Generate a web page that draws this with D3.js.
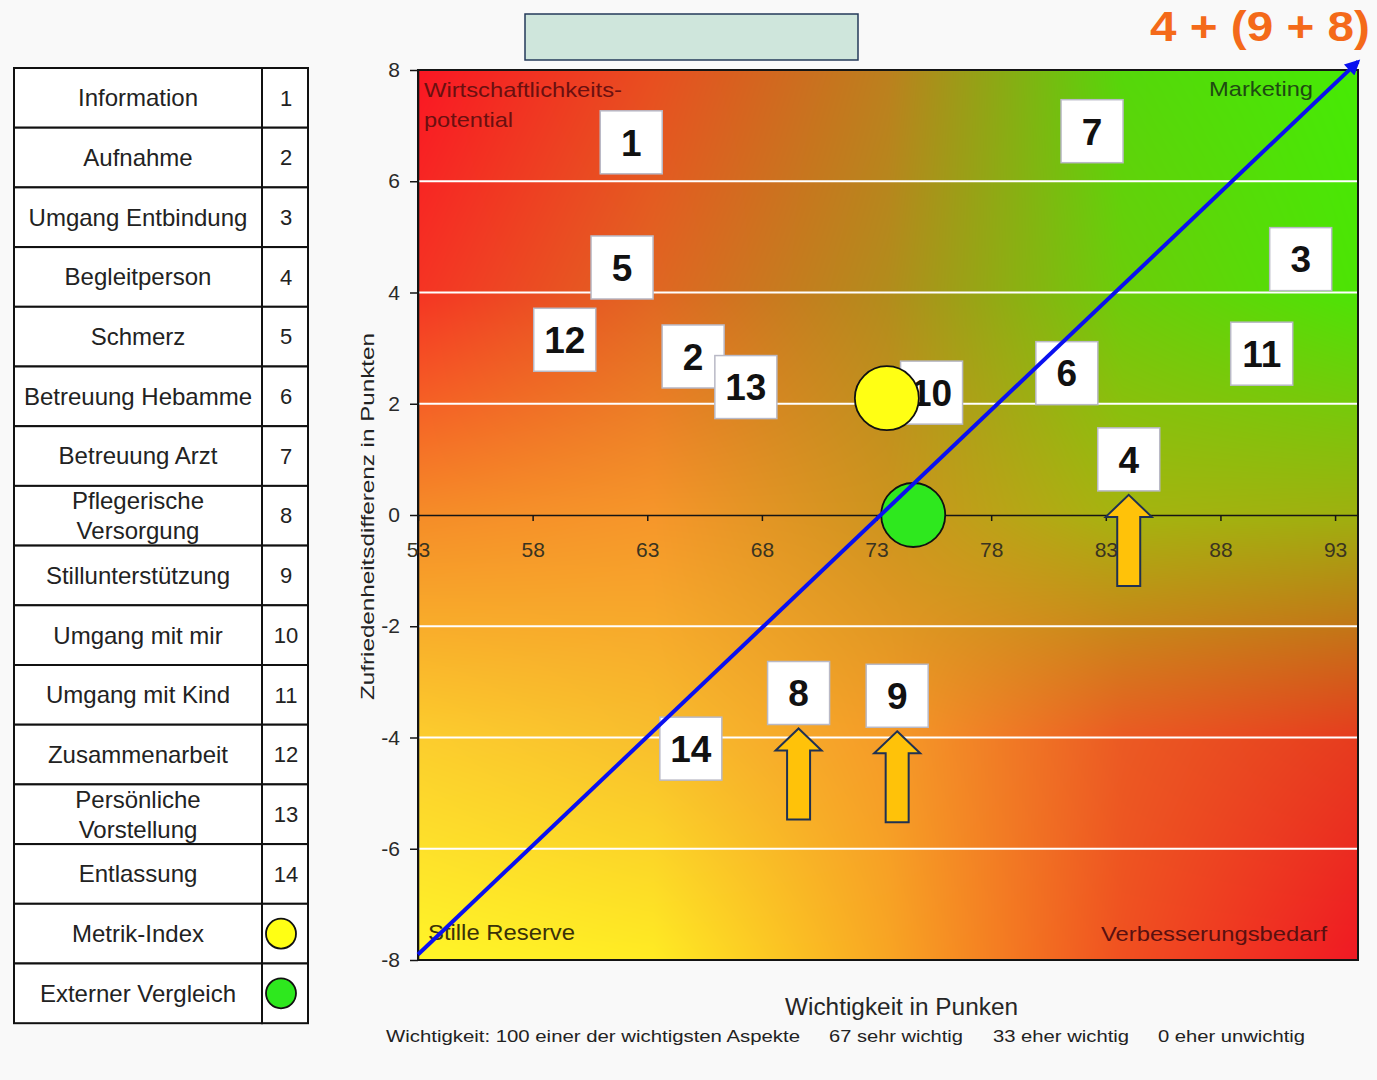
<!DOCTYPE html>
<html>
<head>
<meta charset="utf-8">
<script src="https://cdn.jsdelivr.net/npm/d3@7"></script>
<style>
  html, body { margin: 0; padding: 0; background: #f9f9f9; }
  svg { display: block; font-family: "Liberation Sans", Arial, sans-serif; }
</style>
</head>
<body>
<svg id="chart" width="1377" height="1080"></svg>
<script>
// ---- data ----
const itemNames = [
  "Information", "Aufnahme", "Umgang Entbindung", "Begleitperson", "Schmerz",
  "Betreuung Hebamme", "Betreuung Arzt", "Pflegerische\nVersorgung", "Stillunterstützung",
  "Umgang mit mir", "Umgang mit Kind", "Zusammenarbeit", "Persönliche\nVorstellung", "Entlassung"
];
const itemIds = [1, 2, 3, 4, 5, 6, 7, 8, 9, 10, 11, 12, 13, 14];
// Wichtigkeit in Punkten (x)
const importance = [62.3, 65.0, 91.5, 84.0, 61.9, 81.3, 82.4, 69.6, 73.9, 75.4, 89.8, 59.4, 67.3, 64.9];
// Zufriedenheitsdifferenz in Punkten (y)
const satisfactionDiff = [6.7, 2.85, 4.6, 1.0, 4.45, 2.55, 6.9, -3.2, -3.25, 2.2, 2.9, 3.15, 2.3, -4.2];

const benchmarkNames = ["Metrik-Index", "Externer Vergleich"];
const benchmarkImportance = [73.45, 74.6];
const benchmarkDiff = [2.1, 0];
const benchmarkColors = ["#ffff14", "#2ee81e"];

const focusItems = [4, 9, 8];

const trendImportance = [53, 94];
const trendDiff = [-7.9, 8.15];

const xTicks = [53, 58, 63, 68, 73, 78, 83, 88, 93];
const yTicks = [-8, -6, -4, -2, 0, 2, 4, 6, 8];

const importanceScale = [
  "Wichtigkeit: 100 einer der wichtigsten Aspekte",
  "67 sehr wichtig",
  "33 eher wichtig",
  "0 eher unwichtig"
];

// ---- layout ----
const svg = d3.select("#chart");
const x = d3.scaleLinear().domain([53, 94]).range([418, 1358]);
const y = d3.scaleLinear().domain([-8, 8]).range([960, 70]);

const plotX0 = x(53), plotX1 = x(94), plotY0 = y(8), plotY1 = y(-8);
const plotW = Math.round(plotX1 - plotX0), plotH = Math.round(plotY1 - plotY0);

// ---- colour field behind the portfolio (red / green / yellow / red corners) ----
const field = [
  [[250, 22, 35], [232, 78, 32], [188, 128, 30], [85, 215, 10], [70, 235, 5]],
  [[245, 52, 35], [224, 102, 34], [178, 140, 28], [108, 205, 10], [76, 228, 5]],
  [[245, 140, 40], [246, 150, 42], [205, 148, 30], [165, 180, 15], [158, 176, 15]],
  [[252, 205, 45], [248, 190, 45], [245, 155, 40], [235, 90, 35], [230, 60, 30]],
  [[255, 245, 40], [255, 235, 35], [248, 165, 35], [240, 80, 32], [240, 25, 35]]
];
const canvas = document.createElement("canvas");
canvas.width = plotW; canvas.height = plotH;
const ctx = canvas.getContext("2d");
const img = ctx.createImageData(plotW, plotH);
for (let j = 0; j < plotH; j++) {
  const v = j / (plotH - 1) * 4;
  const fj = Math.min(3, Math.floor(v)), tv = v - fj;
  for (let i = 0; i < plotW; i++) {
    const u = i / (plotW - 1) * 4;
    const fi = Math.min(3, Math.floor(u)), tu = u - fi;
    const a = field[fj][fi], b = field[fj][fi + 1], c = field[fj + 1][fi], d = field[fj + 1][fi + 1];
    const k = (j * plotW + i) * 4;
    for (let ch = 0; ch < 3; ch++) {
      const top = a[ch] + (b[ch] - a[ch]) * tu;
      const bot = c[ch] + (d[ch] - c[ch]) * tu;
      img.data[k + ch] = top + (bot - top) * tv;
    }
    img.data[k + 3] = 255;
  }
}
ctx.putImageData(img, 0, 0);
svg.append("image")
  .attr("x", plotX0).attr("y", plotY0)
  .attr("width", plotW).attr("height", plotH)
  .attr("preserveAspectRatio", "none")
  .attr("href", canvas.toDataURL());

// white gridlines
svg.append("g").selectAll("line")
  .data(yTicks.filter(t => t !== 0 && Math.abs(t) !== 8))
  .join("line")
  .attr("x1", plotX0).attr("x2", plotX1)
  .attr("y1", d => y(d)).attr("y2", d => y(d))
  .attr("stroke", "#ffffff").attr("stroke-width", 2);

// plot frame
svg.append("rect")
  .attr("x", plotX0).attr("y", plotY0).attr("width", plotX1 - plotX0).attr("height", plotY1 - plotY0)
  .attr("fill", "none").attr("stroke", "#151515").attr("stroke-width", 2);

// y axis
const yAxis = svg.append("g")
  .attr("transform", `translate(${plotX0},0)`)
  .call(d3.axisLeft(y).tickValues(yTicks).tickSize(8).tickSizeOuter(0).tickPadding(10).tickFormat(d => String(d)));
yAxis.selectAll("text").attr("font-size", 21).attr("fill", "#2a2a2a").attr("font-family", "Liberation Sans, Arial, sans-serif");
yAxis.selectAll("line, path").attr("stroke", "#151515").attr("stroke-width", 1.5);

// x axis through zero
const xAxis = svg.append("g")
  .attr("transform", `translate(0,${y(0)})`)
  .call(d3.axisBottom(x).tickValues(xTicks).tickSize(6).tickSizeOuter(0).tickPadding(21).tickFormat(d => String(d)));
xAxis.selectAll("text").attr("font-size", 21).attr("fill", "#3a3420").attr("font-family", "Liberation Sans, Arial, sans-serif");
xAxis.selectAll("line, path").attr("stroke", "#151515").attr("stroke-width", 1.5);

// quadrant captions
const captions = svg.append("g").attr("font-size", 21);
captions.append("text").attr("x", 424).attr("y", 97).attr("fill", "#6a1010")
  .attr("textLength", 198).attr("lengthAdjust", "spacingAndGlyphs").text("Wirtschaftlichkeits-");
captions.append("text").attr("x", 424).attr("y", 127).attr("fill", "#6a1010")
  .attr("textLength", 89).attr("lengthAdjust", "spacingAndGlyphs").text("potential");
captions.append("text").attr("x", 1209).attr("y", 96).attr("fill", "#1e4a12")
  .attr("textLength", 104).attr("lengthAdjust", "spacingAndGlyphs").text("Marketing");
captions.append("text").attr("x", 428).attr("y", 940).attr("fill", "#3a3208").attr("font-size", 22)
  .attr("textLength", 147).attr("lengthAdjust", "spacingAndGlyphs").text("Stille Reserve");
captions.append("text").attr("x", 1101).attr("y", 941).attr("fill", "#5a1010").attr("font-size", 20)
  .attr("textLength", 226).attr("lengthAdjust", "spacingAndGlyphs").text("Verbesserungsbedarf");

// item labels (white boxes carrying the item number)
const items = itemIds.map((id, i) => ({ id, x: importance[i], y: satisfactionDiff[i] }));
const boxW = 62, boxH = 63;
const labels = svg.append("g").selectAll("g").data(items).join("g")
  .attr("transform", d => `translate(${x(d.x)},${y(d.y)})`);
labels.append("rect")
  .attr("x", -boxW / 2).attr("y", -boxH / 2).attr("width", boxW).attr("height", boxH)
  .attr("fill", "#ffffff").attr("stroke", "#b9b9c6").attr("stroke-width", 1.5);
labels.append("text")
  .attr("text-anchor", "middle").attr("dy", "0.36em")
  .attr("font-size", 37).attr("font-weight", "bold").attr("fill", "#111")
  .text(d => d.id);

// benchmark circles
const benches = benchmarkNames.map((n, i) => ({ n, x: benchmarkImportance[i], y: benchmarkDiff[i], c: benchmarkColors[i] }));
svg.append("g").selectAll("circle").data(benches).join("circle")
  .attr("cx", d => x(d.x)).attr("cy", d => y(d.y)).attr("r", 32)
  .attr("fill", d => d.c).attr("stroke", "#111").attr("stroke-width", 1.8);

// trend line with arrow head
const defs = svg.append("defs");
defs.append("marker").attr("id", "blueHead")
  .attr("viewBox", "0 0 10 10").attr("refX", 8).attr("refY", 5)
  .attr("markerWidth", 4.6).attr("markerHeight", 3.8).attr("orient", "auto")
  .append("path").attr("d", "M0,0 L10,5 L0,10 z").attr("fill", "#0a10f0");
const trend = trendImportance.map((v, i) => [v, trendDiff[i]]);
svg.append("path").datum(trend)
  .attr("d", d3.line().x(d => x(d[0])).y(d => y(d[1])))
  .attr("stroke", "#0a10f0").attr("stroke-width", 4).attr("fill", "none")
  .attr("marker-end", "url(#blueHead)");

// up arrows below the focus items
function upArrow(cx, tipY) {
  const hw = 23, sw = 11.5, hh = 22, len = 91;
  return `M${cx},${tipY} L${cx + hw},${tipY + hh} L${cx + sw},${tipY + hh} L${cx + sw},${tipY + len} ` +
         `L${cx - sw},${tipY + len} L${cx - sw},${tipY + hh} L${cx - hw},${tipY + hh} Z`;
}
svg.append("g").selectAll("path")
  .data(items.filter(d => focusItems.includes(d.id)))
  .join("path")
  .attr("d", d => upArrow(x(d.x), y(d.y) + boxH / 2 + 4))
  .attr("fill", "#ffc209").attr("stroke", "#1f3152").attr("stroke-width", 2).attr("stroke-linejoin", "miter");

// axis titles
svg.append("text")
  .attr("transform", `translate(374,${(333 + 700) / 2}) rotate(-90)`)
  .attr("text-anchor", "middle").attr("font-size", 19).attr("fill", "#222")
  .attr("textLength", 367).attr("lengthAdjust", "spacingAndGlyphs")
  .text("Zufriedenheitsdifferenz in Punkten");
svg.append("text")
  .attr("x", 785).attr("y", 1015).attr("font-size", 23).attr("fill", "#262626")
  .attr("textLength", 233).attr("lengthAdjust", "spacingAndGlyphs")
  .text("Wichtigkeit in Punken");
const noteX = [386, 829, 993, 1158], noteW = [414, 134, 136, 147];
svg.append("g").selectAll("text").data(importanceScale).join("text")
  .attr("x", (d, i) => noteX[i]).attr("y", 1042)
  .attr("font-size", 17).attr("fill", "#222")
  .attr("textLength", (d, i) => noteW[i]).attr("lengthAdjust", "spacingAndGlyphs")
  .text(d => d);

// header box and headline
svg.append("rect").attr("x", 525).attr("y", 14).attr("width", 333).attr("height", 46)
  .attr("fill", "#cfe6dc").attr("stroke", "#243a5a").attr("stroke-width", 1.5);
svg.append("text")
  .attr("x", 1370).attr("y", 41).attr("text-anchor", "end")
  .attr("font-size", 43).attr("font-weight", "bold").attr("fill", "#f46a1a")
  .attr("textLength", 220).attr("lengthAdjust", "spacingAndGlyphs")
  .text(`${focusItems[0]} + (${focusItems[1]} + ${focusItems[2]})`);

// legend table
const tX0 = 14, tX1 = 262, tX2 = 308, tY0 = 68, rowH = 59.7;
const rows = itemNames.map((n, i) => ({ name: n, key: String(itemIds[i]) }))
  .concat(benches.map(b => ({ name: b.n, color: b.c })));
const table = svg.append("g");
const rowG = table.selectAll("g").data(rows).join("g")
  .attr("transform", (d, i) => `translate(0,${tY0 + i * rowH})`);
rowG.append("rect").attr("x", tX0).attr("y", 0).attr("width", tX1 - tX0).attr("height", rowH)
  .attr("fill", "#ffffff").attr("stroke", "#111").attr("stroke-width", 2);
rowG.append("rect").attr("x", tX1).attr("y", 0).attr("width", tX2 - tX1).attr("height", rowH)
  .attr("fill", "#ffffff").attr("stroke", "#111").attr("stroke-width", 2);
rowG.each(function (d) {
  const g = d3.select(this);
  const lines = d.name.split("\n");
  const t = g.append("text").attr("x", (tX0 + tX1) / 2).attr("text-anchor", "middle")
    .attr("font-size", 24).attr("fill", "#222");
  if (lines.length === 1) {
    t.attr("y", rowH / 2).attr("dy", "0.35em").text(lines[0]);
  } else {
    lines.forEach((l, k) => t.append("tspan").attr("x", (tX0 + tX1) / 2)
      .attr("y", rowH / 2 + (k === 0 ? -15 : 15)).attr("dy", "0.35em").text(l));
  }
  if (d.key) {
    g.append("text").attr("x", (tX1 + tX2) / 2 + 1).attr("y", rowH / 2).attr("dy", "0.35em")
      .attr("text-anchor", "middle").attr("font-size", 22).attr("fill", "#222").text(d.key);
  } else {
    g.append("circle").attr("cx", (tX1 + tX2) / 2 - 4).attr("cy", rowH / 2).attr("r", 15)
      .attr("fill", d.color).attr("stroke", "#111").attr("stroke-width", 1.8);
  }
});
</script>
</body>
</html>
